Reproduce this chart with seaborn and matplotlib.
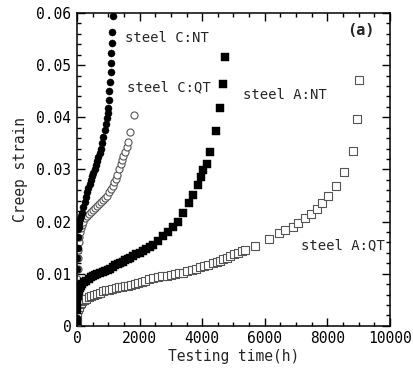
import numpy as np
import pandas as pd
import matplotlib
matplotlib.use("Agg")
import matplotlib.pyplot as plt
import seaborn as sns
from matplotlib.ticker import MultipleLocator, FixedLocator

# ---- data ----
cnt_t = [0, 3, 6, 10, 15, 20, 30, 40, 50, 70, 100, 130, 160, 200, 240, 280, 320, 360, 400,
         440, 480, 520, 560, 600, 640, 680, 720, 760, 800, 840, 880, 920, 960, 990,
         1000, 1020, 1032, 1054, 1077, 1086, 1096, 1109, 1128, 1140]
cnt_e = [0.0015, 0.005, 0.008, 0.011, 0.013, 0.015, 0.017, 0.0185, 0.019, 0.0198, 0.0205, 0.021,
         0.0217, 0.0228, 0.0238, 0.0248, 0.0256, 0.0264, 0.0272, 0.0279, 0.0287, 0.0294, 0.0301,
         0.0308, 0.0316, 0.0323, 0.0331, 0.0340, 0.0350, 0.0362, 0.0375, 0.0388, 0.0398, 0.0408,
         0.0417, 0.0433, 0.0451, 0.0468, 0.0487, 0.0505, 0.0523, 0.0542, 0.0563, 0.0594]

cqt_t = [0, 3, 6, 10, 15, 20, 30, 40, 55, 70, 90, 120, 150, 200, 260, 320, 380, 440, 500, 560,
         630, 700, 770, 840, 900, 960, 1020, 1080, 1140, 1190, 1240, 1290, 1340, 1390, 1430,
         1480, 1534, 1590, 1640, 1703, 1831]
cqt_e = [0.001, 0.003, 0.005, 0.007, 0.009, 0.011, 0.013, 0.0145, 0.016, 0.017, 0.018, 0.0188,
         0.0194, 0.0200, 0.0206, 0.0211, 0.0215, 0.0219, 0.0223, 0.0226, 0.0229, 0.0233, 0.0238,
         0.0242, 0.0246, 0.0250, 0.0256, 0.0262, 0.0268, 0.0275, 0.0282, 0.0290, 0.0300, 0.0310,
         0.0318, 0.0326, 0.0334, 0.0344, 0.0353, 0.0372, 0.0404]

ant_t = [0, 5, 15, 30, 50, 80, 120, 170, 230, 300, 370, 440, 510, 580, 650, 735, 820, 900, 980,
         1060, 1140, 1220, 1300, 1380, 1460, 1540, 1620, 1700, 1800, 1900, 2000, 2100, 2200,
         2330, 2440, 2597, 2757, 2917, 3077, 3236, 3396, 3588, 3716, 3876, 3960, 4035, 4164,
         4260, 4441, 4560, 4655, 4739]
ant_e = [0.001, 0.003, 0.0045, 0.0058, 0.0066, 0.0072, 0.0077, 0.0081, 0.0084, 0.0087, 0.009,
         0.0093, 0.0095, 0.0097, 0.0099, 0.0102, 0.0104, 0.0106, 0.0108, 0.011, 0.0113, 0.0116,
         0.0118, 0.012, 0.0123, 0.0126, 0.0129, 0.0131, 0.0134, 0.0137, 0.014, 0.0144, 0.0148,
         0.0152, 0.0155, 0.0162, 0.0172, 0.018, 0.019, 0.02, 0.0216, 0.0235, 0.0251, 0.027,
         0.0285, 0.0298, 0.031, 0.0334, 0.0374, 0.0417, 0.0463, 0.0516]

aqt_t = [0, 5, 15, 30, 50, 80, 120, 170, 230, 300, 380, 460, 550, 640, 735, 830, 930, 1030,
         1130, 1230, 1330, 1430, 1530, 1630, 1740, 1850, 1960, 2070, 2180, 2300, 2440, 2597,
         2730, 2866, 3000, 3131, 3260, 3396, 3530, 3665, 3800, 3930, 4060, 4195, 4330, 4463,
         4570, 4674, 4780, 4888, 5020, 5153, 5260, 5367, 5687, 6144, 6463, 6645, 6891, 7070,
         7284, 7466, 7658, 7818, 8029, 8275, 8540, 8808, 8946, 9020]
aqt_e = [0.0005, 0.0015, 0.0025, 0.0032, 0.0037, 0.0041, 0.0044, 0.0047, 0.005, 0.0052, 0.0055,
         0.0057, 0.006, 0.0062, 0.0064, 0.0066, 0.0068, 0.0069, 0.0071, 0.0072, 0.0074, 0.0075,
         0.0076, 0.0077, 0.0079, 0.0081, 0.0083, 0.0085, 0.0087, 0.0089, 0.0091, 0.0093, 0.0095,
         0.0096, 0.0098, 0.0099, 0.0101, 0.0102, 0.0105, 0.0107, 0.011, 0.0112, 0.0115, 0.0117,
         0.012, 0.0122, 0.0125, 0.0128, 0.0131, 0.0134, 0.0137, 0.014, 0.0143, 0.0145, 0.0153,
         0.0166, 0.0178, 0.0184, 0.019, 0.0198, 0.0206, 0.0215, 0.0224, 0.0235, 0.0249, 0.0268,
         0.0296, 0.0336, 0.0397, 0.0472]

labels = ["steel C:NT", "steel C:QT", "steel A:NT", "steel A:QT"]
x_ticks = [0, 2000, 4000, 6000, 8000, 10000]
y_ticks = [0, 0.01, 0.02, 0.03, 0.04, 0.05, 0.06]
y_ticklabels = ["0", "0.01", "0.02", "0.03", "0.04", "0.05", "0.06"]

# ---- plotting ----
sns.set_style("ticks")
plt.rcParams['font.family'] = ['DejaVu Sans Mono', 'DejaVu Sans']

fig = plt.figure(figsize=(4.14, 3.72), dpi=100)
ax = fig.add_axes([0.186, 0.124, 0.756, 0.841])

def df(t, e):
    return pd.DataFrame({"t": t, "e": e})

sns.scatterplot(data=df(cnt_t, cnt_e), x="t", y="e", ax=ax, marker="o", s=26,
                color="black", edgecolor="black", linewidth=0.3, zorder=3)
sns.scatterplot(data=df(cqt_t, cqt_e), x="t", y="e", ax=ax, marker="o", s=26,
                facecolor="white", edgecolor="#555555", linewidth=0.8, zorder=2)
sns.scatterplot(data=df(ant_t, ant_e), x="t", y="e", ax=ax, marker="s", s=28,
                color="black", edgecolor="black", linewidth=0.3, zorder=3)
sns.scatterplot(data=df(aqt_t, aqt_e), x="t", y="e", ax=ax, marker="s", s=32,
                facecolor="white", edgecolor="#555555", linewidth=0.8, zorder=2)

ax.set_xlim(0, 10000)
ax.set_ylim(0, 0.06)
ax.xaxis.set_major_locator(FixedLocator(x_ticks))
ax.set_xticklabels([str(v) for v in x_ticks])
ax.xaxis.set_minor_locator(MultipleLocator(500))
ax.yaxis.set_major_locator(FixedLocator(y_ticks))
ax.set_yticklabels(y_ticklabels)
ax.yaxis.set_minor_locator(MultipleLocator(0.002))
ax.tick_params(which="both", direction="in", top=True, right=True, labelsize=10.5,
               width=1.0, colors="black")
ax.tick_params(which="major", length=6, pad=4)
ax.tick_params(which="minor", length=3)
for sp in ax.spines.values():
    sp.set_linewidth(1.1)
    sp.set_color("black")

ax.set_xlabel("Testing time(h)", fontsize=10.5, labelpad=2)
ax.set_ylabel("Creep strain", fontsize=10.5, labelpad=6)

fs = 10
ax.text(1534, 0.0552, labels[0], fontsize=fs, va="center", ha="left")
ax.text(1597, 0.0458, labels[1], fontsize=fs, va="center", ha="left")
ax.text(5303, 0.0443, labels[2], fontsize=fs, va="center", ha="left")
ax.text(7157, 0.0155, labels[3], fontsize=fs, va="center", ha="left")
ax.text(9073, 0.0567, "(a)", fontsize=11, fontweight="bold", va="center", ha="center")

fig.savefig("out.png", dpi=100)
